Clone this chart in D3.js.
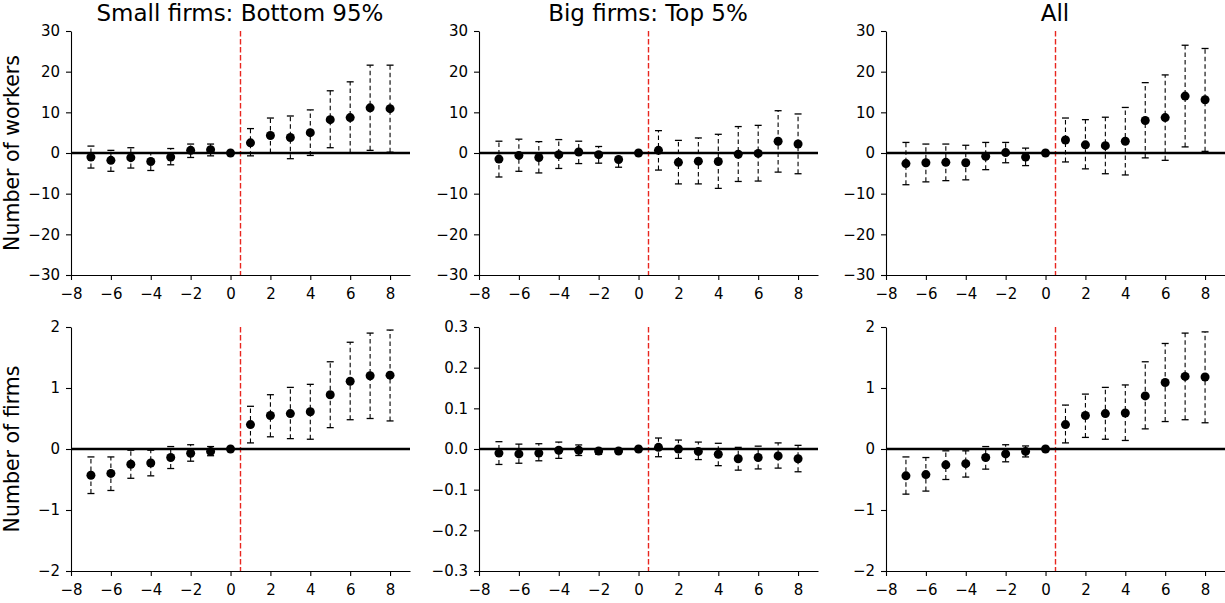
<!DOCTYPE html>
<html>
<head>
<meta charset="utf-8">
<script src="https://cdn.jsdelivr.net/npm/d3@7"></script>
<style>
  html, body { margin: 0; padding: 0; background: #fff; }
  svg { display: block; font-family: "DejaVu Sans", sans-serif; }
</style>
</head>
<body>
<svg id="chart" width="1225" height="603"></svg>
<script>
// Event time (years relative to the event)
const eventTime = [-7, -6, -5, -4, -3, -2, -1, 0, 1, 2, 3, 4, 5, 6, 7, 8];

// Panel titles and row labels
const columnTitles = ["Small firms: Bottom 95%", "Big firms: Top 5%", "All"];
const rowLabels = ["Number of workers", "Number of firms"];

// Number of workers — point estimates and 95% bounds
const smallWorkersEst = [-1.0, -1.8, -1.15, -2.1, -1.0, 0.65, 0.8, 0, 2.5, 4.3, 3.8, 5.0, 8.2, 8.7, 11.1, 10.9];
const smallWorkersLo  = [-3.7, -4.5, -3.7, -4.3, -2.9, -1.1, -0.7, 0, -0.7, 0.0, -1.4, -0.6, 1.3, 0.0, 0.65, 0.2];
const smallWorkersHi  = [1.7, 0.65, 1.3, 0.0, 1.1, 2.2, 2.2, 0, 6.0, 8.6, 9.1, 10.6, 15.3, 17.5, 21.6, 21.6];

const bigWorkersEst = [-1.5, -0.6, -1.1, -0.4, 0.25, -0.4, -1.6, 0, 0.65, -2.3, -2.0, -2.1, -0.3, -0.1, 2.9, 2.2];
const bigWorkersLo  = [-5.9, -4.5, -4.9, -3.8, -2.6, -2.5, -3.5, 0, -4.2, -7.6, -7.6, -8.7, -7.0, -6.9, -4.7, -5.1];
const bigWorkersHi  = [2.9, 3.4, 2.8, 3.3, 2.9, 1.6, 0.0, 0, 5.5, 3.1, 3.7, 4.6, 6.5, 6.8, 10.4, 9.6];

const allWorkersEst = [-2.6, -2.4, -2.3, -2.4, -0.8, 0.1, -1.0, 0, 3.2, 2.0, 1.8, 2.9, 8.0, 8.7, 14.0, 13.1];
const allWorkersLo  = [-7.8, -7.1, -6.8, -6.6, -4.1, -2.4, -3.1, 0, -2.2, -3.9, -5.1, -5.4, -1.2, -1.8, 1.5, 0.4];
const allWorkersHi  = [2.6, 2.2, 2.2, 1.9, 2.6, 2.6, 1.2, 0, 8.6, 8.2, 8.8, 11.2, 17.3, 19.2, 26.5, 25.7];

// Number of firms — point estimates and 95% bounds
const smallFirmsEst = [-0.43, -0.40, -0.25, -0.23, -0.14, -0.07, -0.04, 0, 0.40, 0.55, 0.58, 0.61, 0.89, 1.11, 1.20, 1.21];
const smallFirmsLo  = [-0.73, -0.68, -0.48, -0.44, -0.32, -0.20, -0.11, 0, 0.10, 0.20, 0.17, 0.16, 0.35, 0.48, 0.50, 0.46];
const smallFirmsHi  = [-0.13, -0.13, -0.02, -0.02, 0.04, 0.07, 0.04, 0, 0.70, 0.89, 1.01, 1.06, 1.43, 1.75, 1.90, 1.95];

const bigFirmsEst = [-0.010, -0.012, -0.010, -0.003, -0.003, -0.005, -0.005, 0, 0.004, 0.000, -0.006, -0.013, -0.024, -0.021, -0.017, -0.024];
const bigFirmsLo  = [-0.038, -0.035, -0.029, -0.023, -0.016, -0.013, -0.008, 0, -0.019, -0.023, -0.026, -0.041, -0.052, -0.049, -0.047, -0.056];
const bigFirmsHi  = [0.018, 0.012, 0.013, 0.017, 0.010, 0.001, -0.002, 0, 0.027, 0.022, 0.017, 0.014, 0.004, 0.007, 0.015, 0.009];

const allFirmsEst = [-0.44, -0.42, -0.26, -0.24, -0.14, -0.08, -0.04, 0, 0.40, 0.55, 0.58, 0.59, 0.87, 1.09, 1.19, 1.18];
const allFirmsLo  = [-0.74, -0.69, -0.50, -0.46, -0.33, -0.21, -0.13, 0, 0.10, 0.19, 0.16, 0.14, 0.33, 0.45, 0.48, 0.43];
const allFirmsHi  = [-0.13, -0.14, -0.03, -0.03, 0.04, 0.07, 0.05, 0, 0.72, 0.90, 1.01, 1.05, 1.43, 1.73, 1.90, 1.92];

// Axis ticks
const xTicks = [-8, -6, -4, -2, 0, 2, 4, 6, 8];
const workerTicks = [-30, -20, -10, 0, 10, 20, 30];
const firmTicks = [-2, -1, 0, 1, 2];
const bigFirmTicks = [-0.3, -0.2, -0.1, 0.0, 0.1, 0.2, 0.3];

const eventLine = 0.5;

// Panel grid: one entry per subplot
const panels = [
  { row: 0, col: 0, est: smallWorkersEst, lo: smallWorkersLo, hi: smallWorkersHi, domain: [-30, 30], ticks: workerTicks, fmt: d3.format("d") },
  { row: 0, col: 1, est: bigWorkersEst,   lo: bigWorkersLo,   hi: bigWorkersHi,   domain: [-30, 30], ticks: workerTicks, fmt: d3.format("d") },
  { row: 0, col: 2, est: allWorkersEst,   lo: allWorkersLo,   hi: allWorkersHi,   domain: [-30, 30], ticks: workerTicks, fmt: d3.format("d") },
  { row: 1, col: 0, est: smallFirmsEst,   lo: smallFirmsLo,   hi: smallFirmsHi,   domain: [-2, 2], ticks: firmTicks, fmt: d3.format("d") },
  { row: 1, col: 1, est: bigFirmsEst,     lo: bigFirmsLo,     hi: bigFirmsHi,     domain: [-0.3, 0.3], ticks: bigFirmTicks, fmt: d3.format(".1f") },
  { row: 1, col: 2, est: allFirmsEst,     lo: allFirmsLo,     hi: allFirmsHi,     domain: [-2, 2], ticks: firmTicks, fmt: d3.format("d") }
];

// Layout
const colLeft = [71, 479, 886];
const panelWidth = 339;
const rowTop = [31, 327];
const panelHeight = 244;
const tickFont = 15;

const svg = d3.select("#chart");

panels.forEach(p => {
  const left = colLeft[p.col], top = rowTop[p.row];
  const x = d3.scaleLinear().domain([-8, 9]).range([left, left + panelWidth]);
  const y = d3.scaleLinear().domain(p.domain).range([top + panelHeight, top]);
  const g = svg.append("g");

  // Axes (left and bottom spines only)
  const yAxis = d3.axisLeft(y).tickValues(p.ticks).tickFormat(p.fmt).tickSize(5).tickPadding(6).tickSizeOuter(0);
  const xAxis = d3.axisBottom(x).tickValues(xTicks).tickFormat(d3.format("d")).tickSize(5).tickPadding(8).tickSizeOuter(0);

  const gy = g.append("g").attr("transform", `translate(${left},0)`).call(yAxis);
  const gx = g.append("g").attr("transform", `translate(0,${top + panelHeight})`).call(xAxis);
  [gx, gy].forEach(a => {
    a.selectAll("text").attr("font-size", tickFont).attr("fill", "#000").attr("font-family", "DejaVu Sans");
    a.selectAll("line").attr("stroke", "#000").attr("stroke-width", 1.1);
    a.select(".domain").attr("stroke", "#000").attr("stroke-width", 1.1);
  });

  // Event date marker
  g.append("line")
    .attr("x1", x(eventLine)).attr("x2", x(eventLine))
    .attr("y1", top).attr("y2", top + panelHeight)
    .attr("stroke", "#e8261f").attr("stroke-width", 1.4)
    .attr("stroke-dasharray", "5.5,2.5");

  // Zero reference line
  g.append("line")
    .attr("x1", x(-8)).attr("x2", x(9))
    .attr("y1", y(0)).attr("y2", y(0))
    .attr("stroke", "#000").attr("stroke-width", 2.6);

  const pts = eventTime.map((t, i) => ({ t, est: p.est[i], lo: p.lo[i], hi: p.hi[i] }))
    .filter(d => d.hi !== d.lo);

  // Confidence intervals: dashed whiskers with solid caps
  g.selectAll(".ci").data(pts).join("line")
    .attr("x1", d => x(d.t)).attr("x2", d => x(d.t))
    .attr("y1", d => y(d.lo)).attr("y2", d => y(d.hi))
    .attr("stroke", "#000").attr("stroke-width", 1.1)
    .attr("stroke-dasharray", "4.5,3");

  const cap = 3.5;
  ["lo", "hi"].forEach(k => {
    g.selectAll(".cap-" + k).data(pts).join("line")
      .attr("x1", d => x(d.t) - cap).attr("x2", d => x(d.t) + cap)
      .attr("y1", d => y(d[k])).attr("y2", d => y(d[k]))
      .attr("stroke", "#000").attr("stroke-width", 1.3);
  });

  // Point estimates
  g.selectAll(".pt").data(eventTime.map((t, i) => ({ t, est: p.est[i] }))).join("circle")
    .attr("cx", d => x(d.t)).attr("cy", d => y(d.est))
    .attr("r", 4.5).attr("fill", "#000");

  // Column title on the top row
  if (p.row === 0) {
    svg.append("text")
      .attr("x", left + panelWidth / 2 - 0.5).attr("y", 21)
      .attr("text-anchor", "middle").attr("font-size", 23)
      .attr("font-family", "DejaVu Sans").attr("fill", "#000")
      .text(columnTitles[p.col]);
  }
  // Row label on the first column
  if (p.col === 0) {
    svg.append("text")
      .attr("transform", `translate(19,${top + panelHeight / 2}) rotate(-90)`)
      .attr("text-anchor", "middle").attr("font-size", 20.5)
      .attr("font-family", "DejaVu Sans").attr("fill", "#000")
      .text(rowLabels[p.row]);
  }
});
</script>
</body>
</html>
